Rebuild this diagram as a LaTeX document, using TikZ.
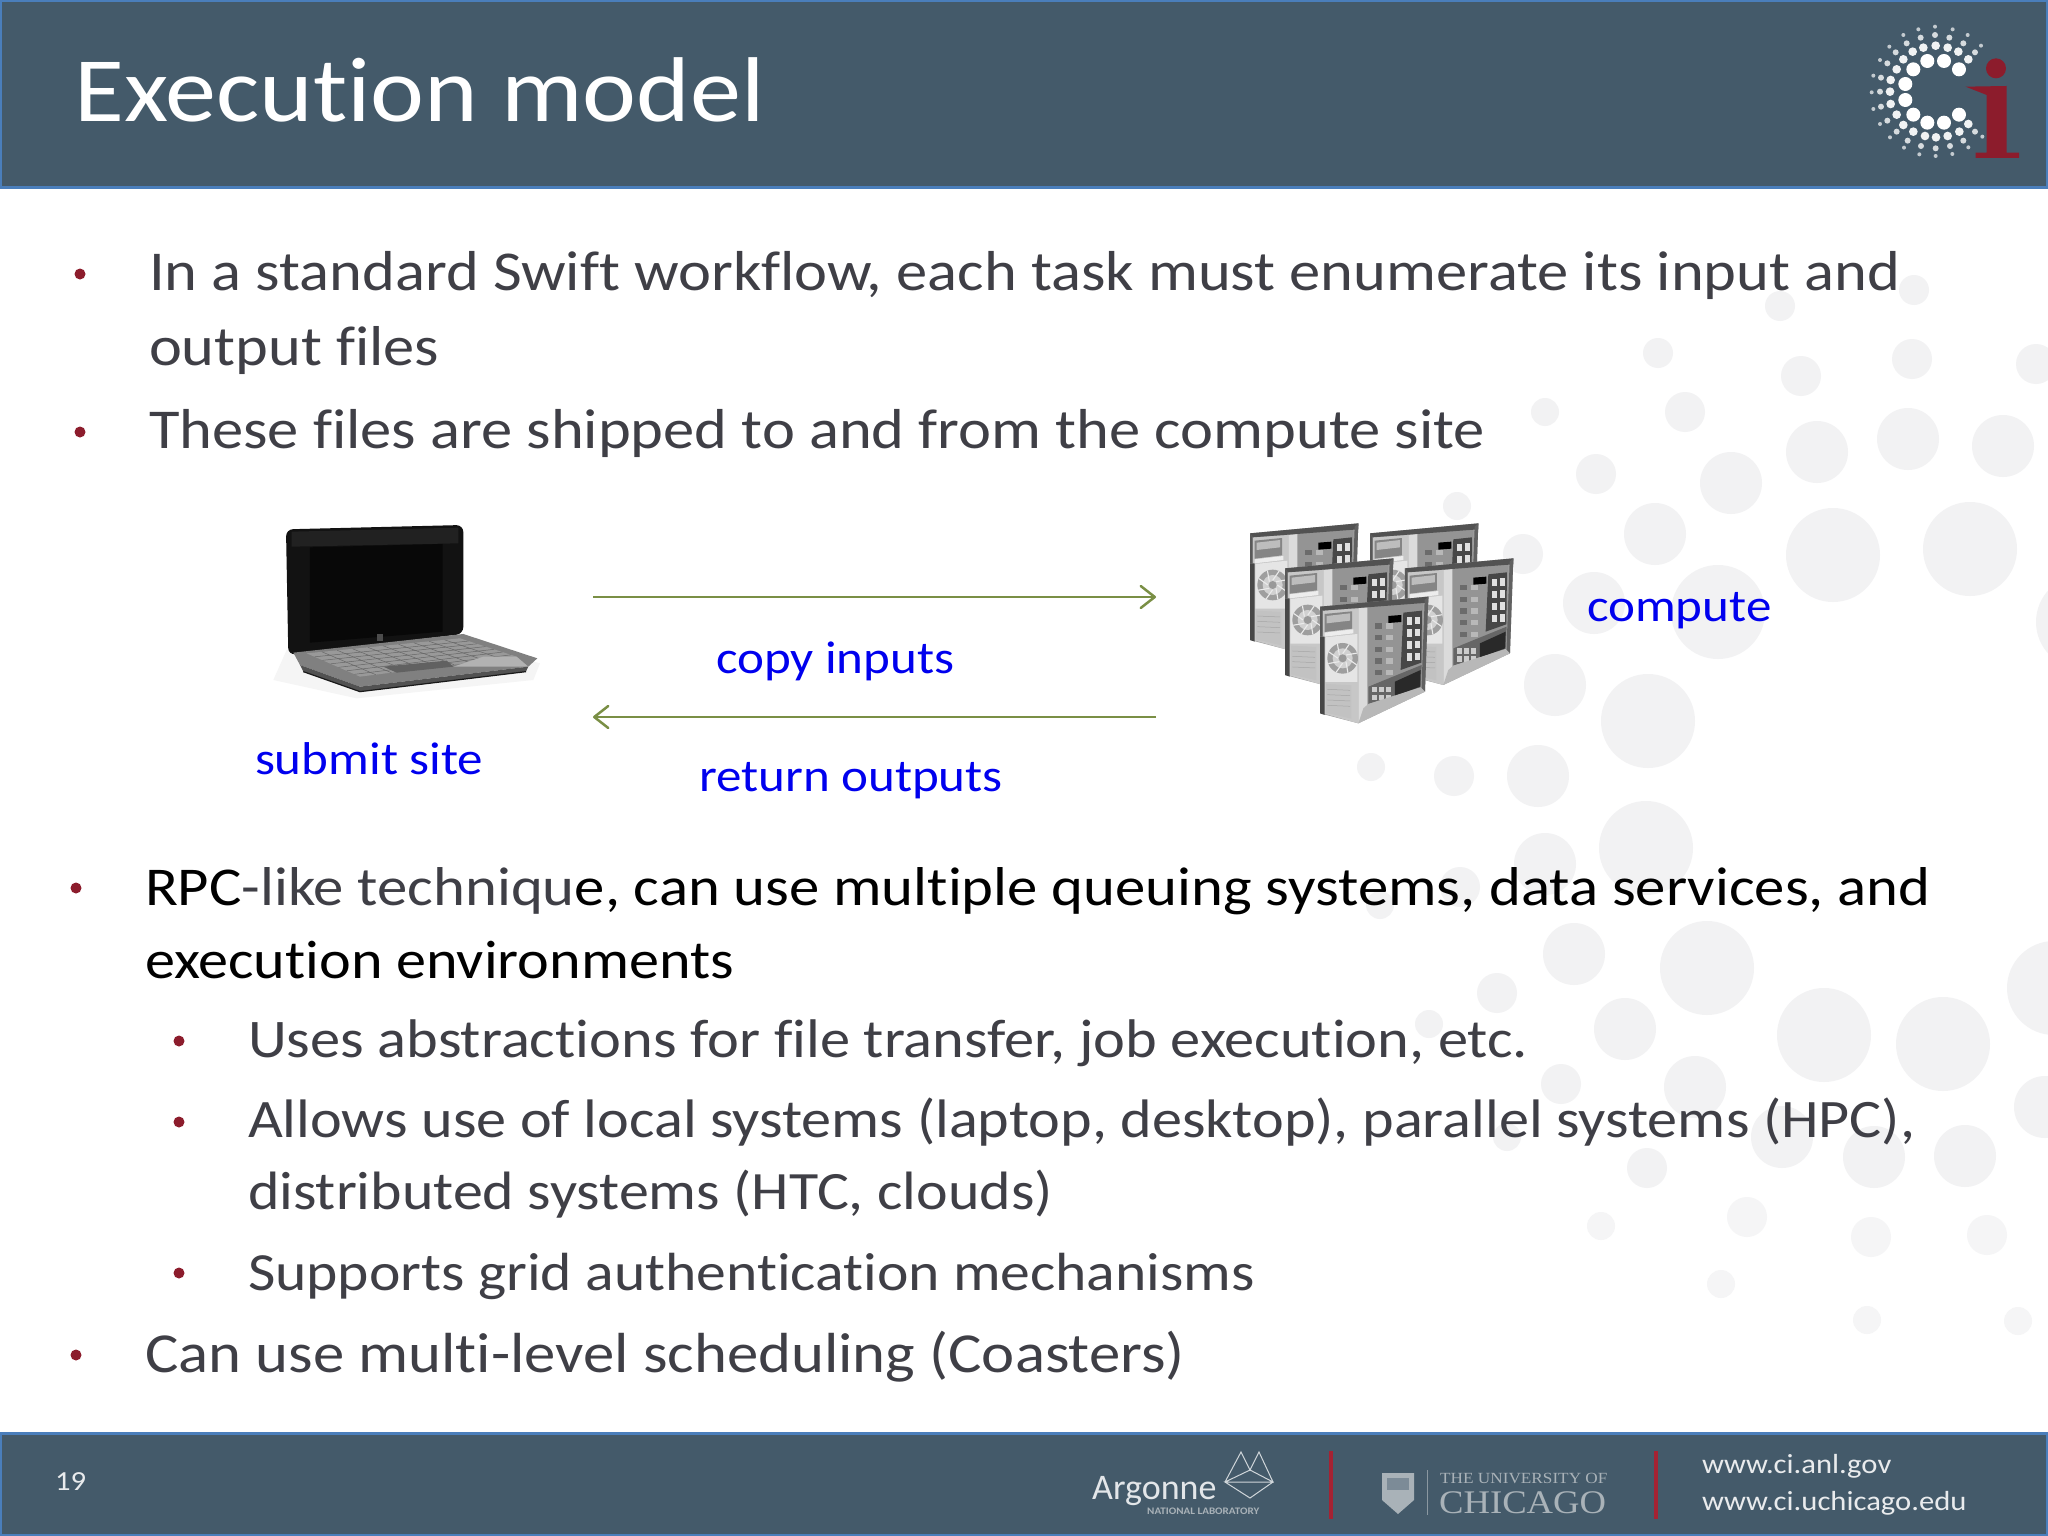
\documentclass[tikz,border=0pt]{standalone}
\usepackage{fontspec}
\setmainfont[Ligatures=NoCommon,FakeStretch=1.11]{Carlito}
\newfontfamily\plainfont[Ligatures=NoCommon]{Carlito}
\newfontfamily\serifogo[FakeStretch=1.11]{Liberation Serif}
\usetikzlibrary{arrows.meta,calc}
\definecolor{band}{HTML}{445A6A}
\definecolor{bandedge}{HTML}{4A7EBB}
\definecolor{bodygray}{HTML}{3F3F46}
\definecolor{bulletred}{HTML}{8C1C2C}
\definecolor{labelblue}{HTML}{0000EE}
\definecolor{arrowolive}{HTML}{7A8F45}
\definecolor{dotgray}{HTML}{F2F2F3}
\definecolor{dotfaint}{HTML}{F5F5F6}
\definecolor{logored}{HTML}{A52233}
\definecolor{logogray}{HTML}{A9B2B8}
\newcommand{\fs}[1]{\fontsize{#1}{#1}\selectfont}
\tikzset{
  txt/.style={anchor=base west,inner sep=0pt,outer sep=0pt,text=bodygray,font=\fs{#1}},
  lbl/.style={anchor=base west,inner sep=0pt,outer sep=0pt,text=labelblue,font=\fs{46}},
  foot/.style={anchor=base west,inner sep=0pt,outer sep=0pt,text=white!88!band,font=\fs{27.6}},
  flow/.style={draw=arrowolive,line width=2.5pt,-{Straight Barb[length=14pt,width=22pt,line width=2.5pt,round]}},
  tower/.pic={
    % body
    \fill[white!62!black] (0,0)--(325,-30)--(315,255)--(115,350)--(0,320)--cycle;
    % front face
    \fill[white!78!black] (8,12)--(115,5)--(115,350)--(8,320)--cycle;
    % interior
    \fill[white!58!black] (140,0)--(310,-12)--(305,180)--(140,240)--cycle;
    \fill[white!86!black] (115,5)--(142,2)--(142,300)--(115,350)--cycle;
    % top and edges
    \fill[white!32!black] (0,0)--(325,-30)--(325,-12)--(8,12)--cycle;
    \fill[white!38!black] (314,-20)--(325,-30)--(315,255)--(304,258)--cycle;
    \fill[white!28!black] (0,90)--(14,90)--(14,325)--(0,320)--cycle;
    \fill[white!35!black] (0,0)--(8,10)--(8,90)--(0,90)--cycle;
    % drive bay
    \fill[white!52!black] (14,22)--(96,14)--(96,66)--(14,76)--cycle;
    \fill[white!74!black] (20,28)--(90,20)--(90,42)--(20,50)--cycle;
    \fill[white!93!black] (14,78)--(100,68)--(100,80)--(14,90)--cycle;
    % fan
    \fill[white!90!black] (16,92)--(112,82)--(112,226)--(16,226)--cycle;
    \fill[white!62!black] (68,155) circle (46);
    \fill[white!82!black] (68,155) circle (30);
    \fill[white!60!black] (68,155) circle (12);
    \foreach \aa in {0,45,...,315} {\draw[white!92!black,line width=1.1pt] ($(68,155)+(\aa:14)$) -- ($(68,155)+(\aa+25:46)$);}
    % lower front
    \fill[white!76!black] (18,232)--(94,236)--(94,336)--(18,318)--cycle;
    \foreach \yy in {248,264,280,296} {\draw[white!65!black,line width=0.5pt] (22,\yy) -- (90,\yy+3);}
    % interior grid
    \foreach \yy in {50,85,120,155,190} {\fill[white!42!black] (166,\yy) rectangle +(20,16); \fill[white!72!black] (198,\yy) rectangle +(20,16);}
    \fill[black] (205,28)--(244,25)--(244,46)--(205,49)--cycle;
    % rack
    \fill[white!28!black] (250,18)--(306,12)--(304,168)--(242,190)--cycle;
    \foreach \yy in {32,68,104,140} {\fill[white!88!black] (260,\yy) rectangle +(16,22); \fill[white!88!black] (284,\yy-2) rectangle +(15,22);}
    % lower block
    \fill[white!40!black] (145,240)--(305,175)--(302,242)--(145,292)--cycle;
    \fill[white!16!black] (225,225)--(302,190)--(300,240)--(225,268)--cycle;
    \foreach \xx in {155,177,199} {\foreach \yy in {240,264} {\fill[white!80!black] (\xx,\yy) rectangle +(15,16);}}
    % lower wedge
    \fill[white!72!black] (115,350)--(315,255)--(302,242)--(145,292)--(130,305)--cycle;
  }
}
\begin{document}
\begin{tikzpicture}[x=1pt,y=-1pt]
\useasboundingbox (0,0) rectangle (2048,1536);
\fill[white] (0,0) rectangle (2048,1536);

% background dots
\foreach \cx/\cy/\r in {
1914/290/15,1780/306/15,1658/353/15,1801/376/20,1912/359/20,2036/364/20,1545/412/14,1685/412/20,
1817/452/31,1908/439/31,2003/446/31,1596/474/20,1731/483/31,1457/506/14,1655/534/31,1833/555/47,
1970/549/47,1523/554/20,1594/603/31,1718/612/47,2083/622/47,1555/685/31,1648/721/47,1371/767/14,1454/776/20,
1538/776/31,1646/848/47,1545/864/31,1380/905/14,1460/887/20,1574/954/31,1707/968/47,1497/993/20,1429/1024/14,
1625/1029/31,1824/1035/47,1943/1044/47,2054/988/47,1561/1084/20,1695/1087/31,2045/1107/31,1507/1137/14,
1782/1137/31,1874/1157/31,1965/1156/31,1647/1168/20}
{\fill[dotgray] (\cx,\cy) circle (\r);}
\foreach \cx/\cy/\r in {1747/1217/20,1601/1226/14,1871/1237/20,1987/1235/20,1721/1284/14,1867/1320/14,2018/1321/14}
{\fill[dotfaint] (\cx,\cy) circle (\r);}

% bands
\fill[bandedge] (0,0) rectangle (2048,189);
\fill[band] (2,2) rectangle (2046,186);
\fill[bandedge] (0,1432) rectangle (2048,1536);
\fill[band] (2,1435) rectangle (2046,1534);

\node[anchor=base west,inner sep=0pt,text=white,font=\fs{92}] (title) at (74,122) {Execution model};

% Ci logo
\begin{scope}[shift={(1800,0)},x=0.3333pt,y=-0.3333pt]
\foreach \px/\py in {340/208,382/183,432/183,477/208,316/252,316/300,340/344,382/368,432/368,477/344}
  {\fill[white] (\px,\py) circle (21);}
\foreach \px/\py in {290/208,310/178,338/155,370/143,407/137,443/143,475/155,505/178,272/240,270/275,272/312,290/344,310/375,340/395,375/408,408/412,443/408,478/395,505/372}
  {\fill[white!92!band] (\px,\py) circle (13);}
\foreach \px/\py in {262/190,287/157,320/130,362/113,405/105,448/113,490/130,525/157,243/233,240/275,243/320,262/362,290/395,323/422,363/438,407/445,450/438,490/422,525/395}
  {\fill[white!78!band] (\px,\py) circle (9);}
\foreach \px/\py in {240/180,268/140,310/105,355/88,405/80,458/88,503/105,543/137,220/227,215/277,220/327,240/372,270/412,312/443,358/463,407/468,457/462,505/442,547/410}
  {\fill[white!68!band] (\px,\py) circle (6);}
\fill[bulletred] (588,205) circle (30);
\fill[bulletred] (497,260)--(620,258)--(620,458)--(657,458)--(657,474)--(527,474)--(527,458)--(560,458)--(560,285)--cycle;
\end{scope}

% body text
\node[txt=56.3] (a1) at (149,290) {In a standard Swift workflow, each task must enumerate its input and};
\node[txt=56.2] (a2) at (149,365) {output files};
\node[txt=56.3] (a3) at (149,448) {These files are shipped to and from the compute site};
\node[txt=54.7,text=black] (b1) at (145,905) {RPC\textcolor{bodygray}{-like techniqu}e, can use multiple queuing systems, data services, and};
\node[txt=54.2,text=black] (b2) at (145,978) {execution environments};
\node[txt=54.4] (c1) at (248,1057) {Uses abstractions for file transfer, job execution, etc.};
\node[txt=54.2] (c2) at (248,1137) {Allows use of local systems (laptop, desktop), parallel systems (HPC),};
\node[txt=54.0] (c3) at (248,1209) {distributed systems (HTC, clouds)};
\node[txt=53.7] (c4) at (248,1290) {Supports grid authentication mechanisms};
\node[txt=56.5] (b3) at (145,1372) {Can use multi-level scheduling (Coasters)};

% bullets
\foreach \bx/\by in {80/274,80/432,76/888,179/1041,179/1122,179/1273,76/1355}
  {\fill[bulletred] (\bx,\by) circle (5.5);}

% laptop
\begin{scope}[shift={(250,490)},x=0.3333pt,y=-0.3333pt]
\fill[black!4] (70,570)--(320,625)--(850,570)--(870,520)--(600,450)--(110,480)--cycle;
\fill[black!93,rounded corners=7pt] (108,118)--(640,105)--(640,432)--(115,495)--cycle;
\fill[black!87] (125,125)--(625,113)--(625,160)--(125,170)--cycle;
\fill[black!97] (180,172)--(578,162)--(578,425)--(180,458)--cycle;
\fill[black!70] (380,432) rectangle (398,452);
\fill[black!50] (130,488)--(640,432)--(862,505)--(835,530)--(330,590)--(150,525)--cycle;
\fill[black!40] (170,490)--(630,445)--(800,500)--(330,560)--cycle;
\foreach \t in {0.15,0.3,0.45,0.6,0.75,0.9}
  {\draw[black!60,line width=0.5pt] ($(170,490)!\t!(330,560)$) -- ($(630,445)!\t!(800,500)$);}
\foreach \t in {0.1,0.2,...,0.95}
  {\draw[black!60,line width=0.5pt] ($(170,490)!\t!(630,445)$) -- ($(330,560)!\t!(800,500)$);}
\fill[black!62] (400,530)--(590,512)--(610,530)--(440,548)--cycle;
\fill[black!30] (610,530)--(700,500)--(800,500)--(835,530)--cycle;
\fill[black!68] (150,525)--(330,590)--(835,530)--(828,545)--(330,605)--(160,545)--cycle;
\draw[black!90,line width=1.2pt] (160,545)--(330,605)--(828,545);
\end{scope}

% towers
\begin{scope}[shift={(1220,500)},x=0.3333pt,y=-0.3333pt]
\pic at (90,100) {tower};
\pic at (450,100) {tower};
\pic at (195,205) {tower};
\pic at (555,205) {tower};
\pic at (300,320) {tower};
\end{scope}

% arrows
\coordinate (aL) at (593,597);
\coordinate (aR) at (1156,597);
\coordinate (bR) at (1156,717);
\coordinate (bL) at (593,717);
\draw[flow] (aL) -- (aR);
\draw[flow] (bR) -- (bL);

% labels
\node[lbl] (copy) at (716,673) {copy inputs};
\node[lbl] (ret) at (699,791) {return outputs};
\node[lbl] (sub) at (255,774) {submit site};
\node[lbl] (comp) at (1587,621) {compute};

% footer
\node[foot] (pg) at (55,1490) {19};
\node[foot] (u1) at (1702,1473) {www.ci.anl.gov};
\node[foot] (u2) at (1702,1510) {www.ci.uchicago.edu};
\fill[logored] (1329,1451) rectangle (1333,1519);
\fill[logored] (1654,1451) rectangle (1658,1519);

% Argonne
\node[anchor=base west,inner sep=0pt,text=white!85!band,font=\plainfont\fs{36}] (arg) at (1092,1499) {Argonne};
\node[anchor=base west,inner sep=0pt,text=logogray,font=\fs{10}\bfseries] (natl) at (1147,1514) {NATIONAL LABORATORY};
\draw[white!75!band,line width=1pt] (1225,1482)--(1241,1452)--(1250,1470)--(1259,1452)--(1273,1482)--(1225,1482)--(1250,1498)--(1273,1482)--(1250,1470)--(1225,1482);

% Chicago
\fill[logogray] (1382,1473)--(1414,1473)--(1414,1500)--(1398,1514)--(1382,1500)--cycle;
\fill[band!70!white] (1387,1478) rectangle (1409,1490);
\draw[logogray!70!band,line width=0.6pt] (1427,1470)--(1427,1515);
\node[anchor=base west,inner sep=0pt,text=logogray,font=\serifogo\fs{15.5}] (uni) at (1440,1483) {THE UNIVERSITY OF};
\node[anchor=base west,inner sep=0pt,text=logogray,font=\serifogo\fs{33}] (chi) at (1439,1513) {CHICAGO};
\end{tikzpicture}
\end{document}
